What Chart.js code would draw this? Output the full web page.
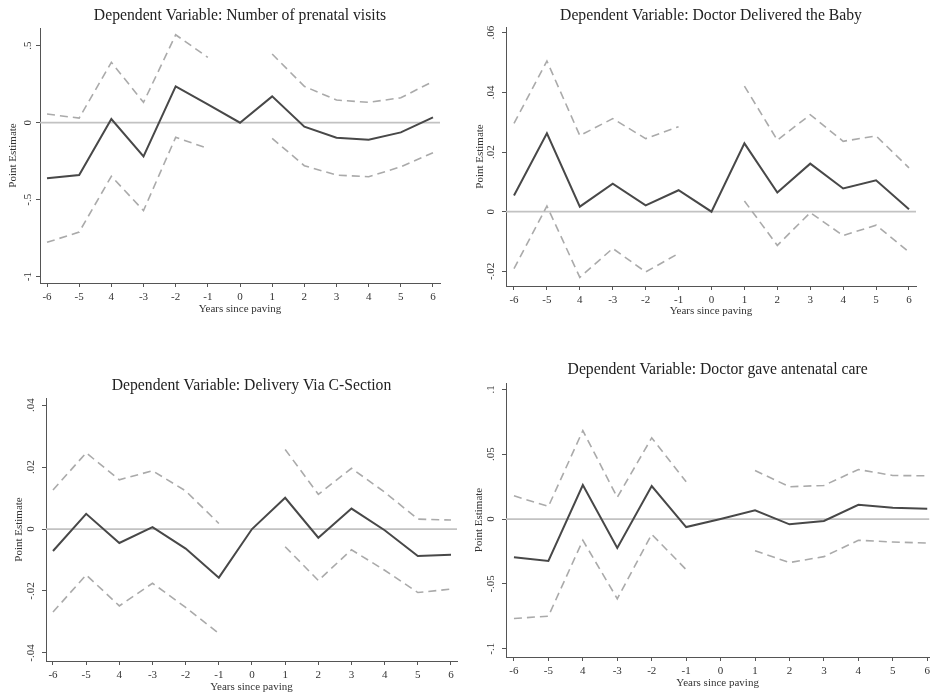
<!DOCTYPE html>
<html><head><meta charset="utf-8">
<script src="https://cdn.jsdelivr.net/npm/chart.js@4.4.1/dist/chart.umd.min.js"></script>
<style>
html,body{margin:0;padding:0;background:#fff;}
body{width:934px;height:698px;position:relative;overflow:hidden;}
canvas{position:absolute;}
</style></head><body>
<canvas id="c1" width="467" height="349" style="left:0px;top:0px;width:467px;height:349px"></canvas>
<canvas id="c2" width="467" height="349" style="left:467px;top:0px;width:467px;height:349px"></canvas>
<canvas id="c3" width="467" height="349" style="left:0px;top:349px;width:467px;height:349px"></canvas>
<canvas id="c4" width="467" height="349" style="left:467px;top:349px;width:467px;height:349px"></canvas>
<script>
// ---- data ----
const years = [-6,-5,-4,-3,-2,-1,0,1,2,3,4,5,6];
const xTickLabels = ["-6","-5","4","-3","-2","-1","0","1","2","3","4","5","6"];
const refLineValue = 0;

const titles = [
  "Dependent Variable: Number of prenatal visits",
  "Dependent Variable: Doctor Delivered the Baby",
  "Dependent Variable: Delivery Via C-Section",
  "Dependent Variable: Doctor gave antenatal care"
];

const visitsEst   = [-0.361,-0.340,0.024,-0.219,0.236,0.119,0,0.171,-0.026,-0.097,-0.110,-0.063,0.035];
const visitsUpper = [0.056,0.030,0.392,0.132,0.571,0.424,null,0.446,0.236,0.147,0.132,0.162,0.268];
const visitsLower = [-0.777,-0.710,-0.348,-0.571,-0.095,-0.167,null,-0.102,-0.279,-0.340,-0.351,-0.286,-0.195];
const visitsYTicks = [-1,-0.5,0,0.5];
const visitsYLabels = ["-1","-.5","0",".5"];

const doctorEst   = [0.0054,0.0263,0.0017,0.0094,0.0021,0.0072,0,0.0229,0.0064,0.0161,0.0078,0.0105,0.0008];
const doctorUpper = [0.0296,0.0505,0.0255,0.0312,0.0245,0.0285,null,0.0421,0.0240,0.0325,0.0236,0.0254,0.0147];
const doctorLower = [-0.0191,0.0019,-0.0220,-0.0123,-0.0202,-0.0140,null,0.0036,-0.0113,-0.0003,-0.0080,-0.0045,-0.0135];
const doctorYTicks = [-0.02,0,0.02,0.04,0.06];
const doctorYLabels = ["-.02","0",".02",".04",".06"];

const csecEst   = [-0.0071,0.0049,-0.0045,0.0006,-0.0063,-0.0157,0,0.0101,-0.0028,0.0066,-0.0004,-0.0087,-0.0083];
const csecUpper = [0.0126,0.0246,0.0159,0.0188,0.0123,0.0018,null,0.0257,0.0112,0.0196,0.0119,0.0032,0.0029];
const csecLower = [-0.0268,-0.0148,-0.0248,-0.0175,-0.0253,-0.0337,null,-0.0057,-0.0166,-0.0067,-0.0133,-0.0205,-0.0194];
const csecYTicks = [-0.04,-0.02,0,0.02,0.04];
const csecYLabels = ["-.04","-.02","0",".02",".04"];

const anteEst   = [-0.0295,-0.0323,0.0262,-0.0223,0.0254,-0.0062,0,0.0067,-0.0041,-0.0015,0.0110,0.0087,0.0079];
const anteUpper = [0.0179,0.0097,0.0682,0.0167,0.0626,0.0287,null,0.0374,0.0249,0.0259,0.0382,0.0336,0.0333];
const anteLower = [-0.0767,-0.0749,-0.0164,-0.0615,-0.0118,-0.0390,null,-0.0244,-0.0336,-0.0290,-0.0164,-0.0177,-0.0185];
const anteYTicks = [-0.1,-0.05,0,0.05,0.1];
const anteYLabels = ["-.1","-.05","0",".05",".1"];

// ---- layout ----
const FONT = "'Liberation Serif', 'DejaVu Serif', serif";
const panels = [
  {id:'c1', qx:0,   qy:0,   L:40,  T:28,  R:440, B:283, titleY:16,  yTitleX:13,  xTitleY:309,
   xMin:-6.218, xMax:6.218, yMin:-1.041, yMax:0.615,
   est:visitsEst, up:visitsUpper, lo:visitsLower, yTicks:visitsYTicks, yLabels:visitsYLabels, title:titles[0]},
  {id:'c2', qx:467, qy:0,   L:506, T:27,  R:916, B:286, titleY:16,  yTitleX:480, xTitleY:311,
   xMin:-6.243, xMax:6.213, yMin:-0.0249, yMax:0.0619,
   est:doctorEst, up:doctorUpper, lo:doctorLower, yTicks:doctorYTicks, yLabels:doctorYLabels, title:titles[1]},
  {id:'c3', qx:0,   qy:349, L:46,  T:398, R:457, B:661, titleY:386, yTitleX:19,  xTitleY:687,
   xMin:-6.211, xMax:6.181, yMin:-0.0426, yMax:0.0423,
   est:csecEst, up:csecUpper, lo:csecLower, yTicks:csecYTicks, yLabels:csecYLabels, title:titles[2]},
  {id:'c4', qx:467, qy:349, L:506, T:383, R:931, B:657, titleY:370, yTitleX:479, xTitleY:683,
   xMin:-6.231, xMax:6.058, yMin:-0.1064, yMax:0.1049,
   est:anteEst, up:anteUpper, lo:anteLower, yTicks:anteYTicks, yLabels:anteYLabels, title:titles[3]}
];

const refLinePlugin = {
  id:'refLine',
  beforeDatasetsDraw(chart){
    const {ctx, chartArea, scales} = chart;
    const y = scales.y.getPixelForValue(refLineValue);
    ctx.save();
    ctx.strokeStyle = '#c2c2c2';
    ctx.lineWidth = 1.8;
    ctx.beginPath();
    ctx.moveTo(chartArea.left, y);
    ctx.lineTo(chartArea.right, y);
    ctx.stroke();
    ctx.restore();
  }
};
const panelTitlePlugin = {
  id:'panelTitle',
  afterDraw(chart, args, opts){
    const {ctx, chartArea} = chart;
    ctx.save();
    ctx.font = "15.7px " + FONT;
    ctx.fillStyle = '#222';
    ctx.textAlign = 'center';
    ctx.textBaseline = 'middle';
    ctx.fillText(opts.text, (chartArea.left + chartArea.right)/2, opts.y);
    ctx.restore();
  }
};

const LH = 11*1.2;
panels.forEach(p => {
  const W = 467, H = 349;
  const yW = p.L - p.qx;
  const xH = p.qy + H - p.B;
  const pts = arr => years.map((x,i) => ({x:x, y:arr[i]}));
  new Chart(document.getElementById(p.id), {
    type:'line',
    data:{datasets:[
      {data:pts(p.est), borderColor:'#484848', borderWidth:2, pointRadius:0, tension:0, spanGaps:false},
      {data:pts(p.up), borderColor:'#aaaaaa', borderWidth:1.6, borderDash:[8,5], pointRadius:0, tension:0, spanGaps:false},
      {data:pts(p.lo), borderColor:'#aaaaaa', borderWidth:1.6, borderDash:[8,5], pointRadius:0, tension:0, spanGaps:false}
    ]},
    options:{
      responsive:false, animation:false, devicePixelRatio:1,
      layout:{padding:{left:0, top:p.T - p.qy, right:p.qx + W - p.R, bottom:0}},
      plugins:{legend:{display:false}, tooltip:{enabled:false},
        panelTitle:{text:p.title, y:p.titleY - p.qy}},
      scales:{
        x:{type:'linear', min:p.xMin, max:p.xMax,
          afterBuildTicks(s){ s.ticks = years.map(v => ({value:v})); },
          afterFit(s){ s.height = xH; },
          ticks:{autoSkip:false, padding:4, color:'#333', font:{family:FONT, size:11},
            maxRotation:0, minRotation:0,
            callback:(v) => xTickLabels[years.indexOf(v)]},
          grid:{drawOnChartArea:false, drawTicks:true, tickLength:4, color:'#555', lineWidth:1},
          border:{display:true, color:'#555', width:1},
          title:{display:true, text:'Years since paving', color:'#333', font:{family:FONT, size:11},
            padding:{top:0, bottom: p.qy + H - LH/2 - p.xTitleY}}
        },
        y:{type:'linear', min:p.yMin, max:p.yMax,
          afterBuildTicks(s){ s.ticks = p.yTicks.map(v => ({value:v})); },
          afterFit(s){ s.width = yW; },
          ticks:{autoSkip:false, padding:2, color:'#333', font:{family:FONT, size:11},
            minRotation:90, maxRotation:90, crossAlign:'center',
            callback:(v) => p.yLabels[p.yTicks.indexOf(v)]},
          grid:{drawOnChartArea:false, drawTicks:true, tickLength:4, color:'#555', lineWidth:1},
          border:{display:true, color:'#555', width:1},
          title:{display:true, text:'Point Estimate', color:'#333', font:{family:FONT, size:11},
            padding:{top: p.yTitleX - p.qx - LH/2, bottom:0}}
        }
      }
    },
    plugins:[refLinePlugin, panelTitlePlugin]
  });
});
</script>
</body></html>
